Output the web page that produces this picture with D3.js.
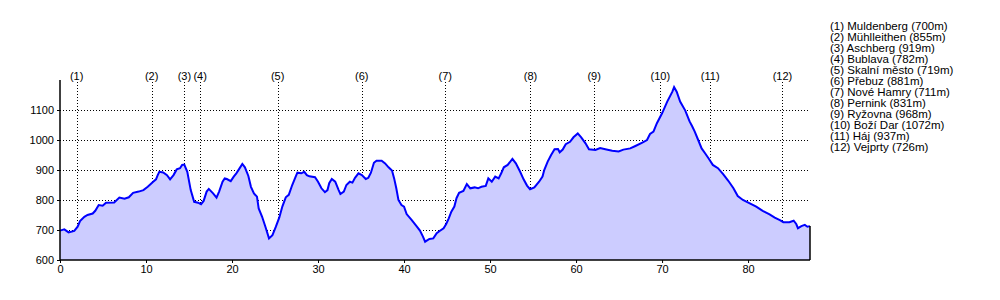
<!DOCTYPE html>
<html><head><meta charset="utf-8">
<script src="https://cdn.jsdelivr.net/npm/d3@7"></script>
<style>
html,body{margin:0;padding:0;background:#fff;}
svg{display:block;font-family:"Liberation Sans",Arial,Helvetica,sans-serif;}
</style></head>
<body>
<svg id="chart" width="1000" height="300"></svg>
<script>
const distanceKm = [0,0.5,1.0,1.66,2.05,2.33,2.83,3.2,3.8,4.1,4.5,4.96,5.35,6.3,6.9,7.5,8.0,8.5,9.15,9.7,10.2,10.8,11.16,11.36,11.55,12.0,12.44,12.8,13.2,13.57,13.95,14.2,14.45,14.8,15.2,15.6,16.05,16.4,16.7,17.05,17.3,17.8,18.2,18.5,18.9,19.15,19.4,19.85,20.2,20.5,20.8,21.2,21.5,21.9,22.2,22.55,22.9,23.1,23.5,23.9,24.3,24.7,25.1,25.5,25.85,26.25,26.6,27.0,27.4,27.6,28.05,28.4,28.7,29.0,29.65,30.0,30.4,30.8,31.1,31.3,31.6,32.0,32.4,32.6,33.0,33.3,33.7,34.0,34.3,34.7,35.1,35.55,35.85,36.15,36.5,36.8,37.4,37.8,38.2,38.6,38.85,39.1,39.35,39.7,40.0,40.3,40.9,41.45,41.85,42.2,42.45,42.95,43.4,43.8,44.1,44.6,44.9,45.2,45.5,45.85,46.1,46.4,46.9,47.3,47.7,48.2,48.6,49.0,49.5,49.8,50.2,50.6,51.0,51.3,51.6,52.05,52.6,53.0,53.5,53.9,54.3,54.65,55.15,55.7,56.1,56.3,56.7,57.1,57.5,57.9,58.1,58.45,58.8,59.3,59.7,60.2,60.6,61.1,61.5,62.25,62.8,63.4,64.2,64.95,65.5,66.3,66.9,67.7,68.25,68.6,69.0,69.4,70.0,70.6,71.2,71.4,71.7,72.1,72.7,73.2,73.5,73.8,74.2,74.6,75.0,75.4,75.9,76.5,77.1,77.7,78.3,78.8,79.4,80.2,80.95,81.7,82.5,83.1,83.7,84.1,84.8,85.3,85.6,85.8,86.2,86.6,86.9,87.2];
const elevationM = [698,702,692,697,711,730,744,750,755,764,783,781,791,792,808,804,809,824,828,833,844,860,869,883,894,892,883,869,883,902,906,917,918,894,833,794,791,786,797,828,837,822,808,828,861,872,870,863,878,889,902,920,909,880,844,822,811,772,744,709,672,683,711,742,778,809,817,850,878,891,889,894,883,879,876,861,839,826,833,856,870,861,833,820,828,850,861,858,874,889,883,870,874,891,924,931,931,922,909,898,872,839,800,783,778,753,733,713,698,678,661,670,672,689,696,706,720,739,761,778,806,824,830,853,839,842,839,844,847,872,861,878,872,889,909,917,937,922,894,869,848,836,842,861,878,900,928,950,969,970,959,968,986,994,1009,1022,1009,989,969,967,973,969,964,962,968,972,980,991,1000,1020,1028,1056,1089,1128,1161,1176,1161,1128,1098,1062,1046,1028,1000,972,956,939,917,906,886,864,839,813,800,789,778,764,752,741,733,726,726,731,720,706,713,717,711,713];
const waypointKm = [1.94,10.66,14.46,16.3,25.3,35.08,44.8,54.7,62.1,69.8,75.6,84.0];
const waypointNames = ["(1)","(2)","(3)","(4)","(5)","(6)","(7)","(8)","(9)","(10)","(11)","(12)"];
const legendLines = ["(1) Muldenberg (700m)","(2) Mühlleithen (855m)","(3) Aschberg (919m)","(4) Bublava (782m)","(5) Skalní město (719m)","(6) Přebuz (881m)","(7) Nové Hamry (711m)","(8) Pernink (831m)","(9) Ryžovna (968m)","(10) Boží Dar (1072m)","(11) Háj (937m)","(12) Vejprty (726m)"];
const xTicks = [0,10,20,30,40,50,60,70,80];
const yTicks = [600,700,800,900,1000,1100];
const yGrid = [700,800,900,1000,1100];

const svg = d3.select("#chart");
const x = d3.scaleLinear().domain([0, 87.2]).range([60, 810]);
const y = d3.scaleLinear().domain([600, 1200]).range([260, 80]);
const data = distanceKm.map((d,i)=>({d, e: elevationM[i]}));

// grid
svg.append("g").selectAll("line").data(yGrid).join("line")
  .attr("x1", x(0)).attr("x2", x(87.2))
  .attr("y1", d=>y(d)+0.5).attr("y2", d=>y(d)+0.5)
  .attr("stroke","#000").attr("stroke-width",1).attr("stroke-dasharray","1,2");
svg.append("g").selectAll("line").data(waypointKm).join("line")
  .attr("x1", d=>Math.round(x(d))+0.5).attr("x2", d=>Math.round(x(d))+0.5)
  .attr("y1", 82).attr("y2", y(600))
  .attr("stroke","#000").attr("stroke-width",1).attr("stroke-dasharray","1,2");
svg.append("g").selectAll("text").data(waypointKm).join("text")
  .attr("x", d=>x(d)).attr("y", 80)
  .attr("text-anchor","middle").attr("font-size","11px").attr("fill","#000")
  .text((d,i)=>waypointNames[i]);

// area
svg.append("path").datum(data)
  .attr("d", d3.area().x(d=>x(d.d)).y0(y(600)).y1(d=>y(d.e)))
  .attr("fill","#ccccff");
svg.append("path").datum(data)
  .attr("d", d3.line().x(d=>x(d.d)).y(d=>y(d.e)))
  .attr("fill","none").attr("stroke","#0000ff").attr("stroke-width",2);
// end line
const last = data[data.length-1];
svg.append("line").attr("x1", x(last.d)).attr("x2", x(last.d))
  .attr("y1", y(last.e)).attr("y2", y(600)).attr("stroke","#000").attr("stroke-width",1.5);

// axes
const xa = svg.append("g").attr("transform",`translate(0,${y(600)})`)
  .call(d3.axisBottom(x).tickValues(xTicks).tickSize(3).tickPadding(2).tickFormat(d3.format("d")));
const ya = svg.append("g").attr("transform",`translate(${x(0)},0)`)
  .call(d3.axisLeft(y).tickValues(yTicks).tickSize(3).tickPadding(3).tickFormat(d3.format("d")));
[xa,ya].forEach(g=>{
  g.select(".domain").attr("stroke","#000").attr("stroke-width",1.5);
  g.selectAll(".tick line").attr("stroke","#000");
  g.selectAll(".tick text").attr("font-size","11px").attr("fill","#000")
    .attr("font-family",'"Liberation Sans",Arial,sans-serif');
});
xa.select(".domain").attr("d", `M${x(0)},0H${x(87.2)}`);
ya.select(".domain").attr("d", `M0,${y(600)}V${y(1200)}`);

// legend
svg.append("g").selectAll("text").data(legendLines).join("text")
  .attr("x", 830).attr("y", (d,i)=>29.5 + i*11)
  .attr("font-size","11.5px").attr("fill","#000").text(d=>d);
</script>
</body></html>
